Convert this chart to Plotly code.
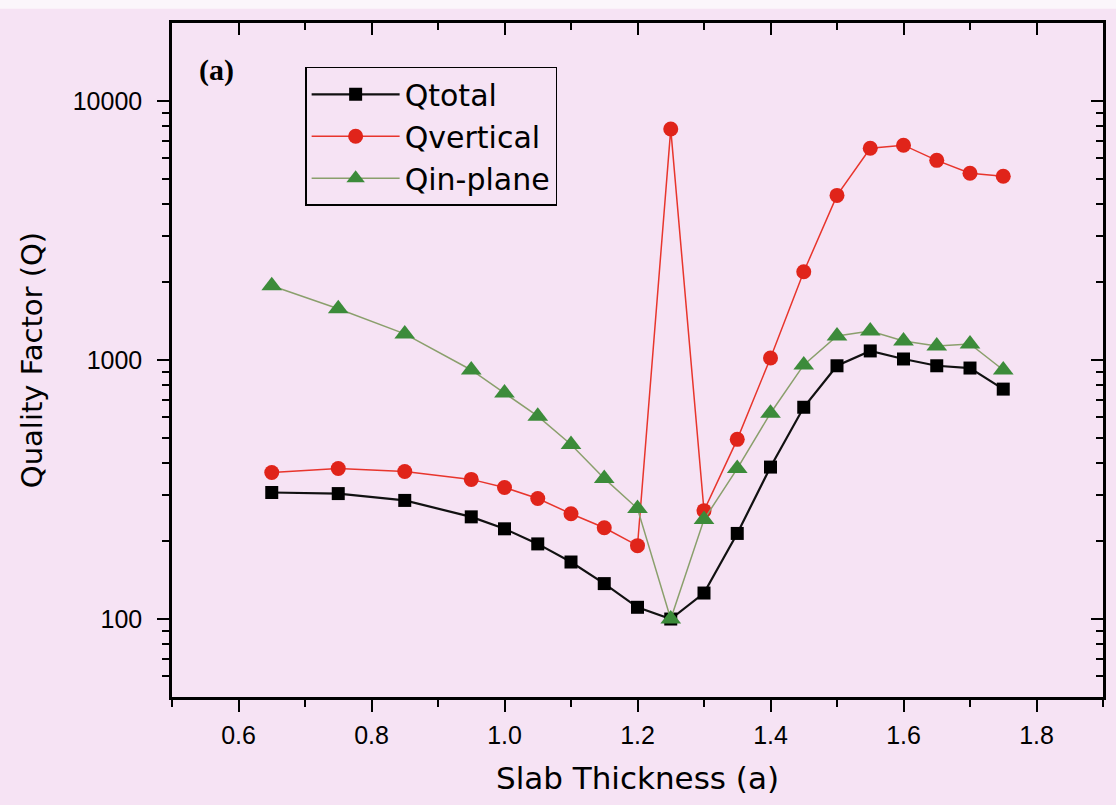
import plotly.graph_objects as go

# ---- data ----
thickness = [0.65, 0.75, 0.85, 0.95, 1.00, 1.05, 1.10, 1.15, 1.20, 1.25,
             1.30, 1.35, 1.40, 1.45, 1.50, 1.55, 1.60, 1.65, 1.70, 1.75]
q_total = [308, 305, 287, 248, 223, 195, 166, 137, 111, 100,
           126, 214, 386, 657, 950, 1084, 1009, 950, 931, 772]
q_vertical = [368, 381, 371, 346, 322, 292, 255, 225, 192, 7790,
              262, 494, 1018, 2190, 4320, 6570, 6750, 5900, 5260, 5120]
q_inplane = [1935, 1577, 1261, 915, 745, 607, 472, 349, 267, 100,
             242, 381, 623, 957, 1239, 1295, 1185, 1133, 1153, 915]

x_major_ticks = [0.6, 0.8, 1.0, 1.2, 1.4, 1.6, 1.8]
x_minor_ticks = [0.5, 0.7, 0.9, 1.1, 1.3, 1.5, 1.7, 1.9]
y_major_ticks = [100, 1000, 10000]
y_major_text = ["100", "1000", "10000"]
y_minor_ticks = [60, 70, 80, 90,
                 200, 300, 400, 500, 600, 700, 800, 900,
                 2000, 3000, 4000, 5000, 6000, 7000, 8000, 9000]

BG = "#F6E3F4"
TICK_FONT = dict(family="Liberation Sans, Arial, sans-serif", size=25, color="black")

fig = go.Figure()

fig.add_trace(go.Scatter(
    x=thickness, y=q_total, name="Qtotal", mode="lines+markers",
    line=dict(color="#111111", width=2.2),
    marker=dict(symbol="square", size=13, color="#000000"),
    legendgroup="a"))
fig.add_trace(go.Scatter(
    x=thickness, y=q_vertical, name="Qvertical", mode="lines+markers",
    line=dict(color="#E8352C", width=1.5),
    marker=dict(symbol="circle", size=15, color="#E0241A"),
    legendgroup="b"))
fig.add_trace(go.Scatter(
    x=thickness, y=q_inplane, name="Qin-plane", mode="lines+markers",
    line=dict(color="#8A9F6C", width=1.5),
    marker=dict(symbol="triangle-up", size=18, color="#3C8B3A"),
    legendgroup="c"))
# invisible trace so the mirrored (top/right) axes get drawn
fig.add_trace(go.Scatter(
    x=thickness, y=q_total, xaxis="x2", yaxis="y2", mode="lines",
    line=dict(width=0, color="rgba(0,0,0,0)"), showlegend=False,
    hoverinfo="skip"))

xr = [0.5, 1.9]
yr = [1.69897, 4.30103]

common_x = dict(range=xr, showline=True, linecolor="black", linewidth=2.5,
                showgrid=False, zeroline=False, tickvals=x_major_ticks,
                ticklen=12, tickwidth=2, tickcolor="black",
                minor=dict(tickvals=x_minor_ticks,
                           ticklen=7, tickwidth=2, tickcolor="black"))
common_y = dict(type="log", range=yr, showline=True, linecolor="black",
                linewidth=2.5, showgrid=False, zeroline=False,
                tickvals=y_major_ticks, ticktext=y_major_text,
                ticklen=12, tickwidth=2, tickcolor="black",
                minor=dict(tickvals=y_minor_ticks, ticklen=7, tickwidth=2,
                           tickcolor="black"))

fig.update_layout(
    width=1116, height=805,
    paper_bgcolor=BG, plot_bgcolor=BG,
    margin=dict(l=172, r=13, t=23, b=108),
    xaxis=dict(**common_x, ticks="outside", tickformat=".1f",
               tickfont=TICK_FONT, ticklabelstandoff=2,
               minor_ticks="outside",
               title=dict(text="Slab Thickness (a)",
                          font=dict(family="DejaVu Sans, sans-serif", size=31, color="black"),
                          standoff=20)),
    yaxis=dict(**common_y, ticks="outside", tickfont=TICK_FONT,
               ticklabelstandoff=10, minor_ticks="outside",
               title=dict(text="Quality Factor (Q)",
                          font=dict(family="DejaVu Sans, sans-serif", size=29, color="black"),
                          standoff=22)),
    xaxis2=dict(**common_x, ticks="inside", minor_ticks="inside",
                overlaying="x", side="top", anchor="y", showticklabels=False),
    yaxis2=dict(**common_y, ticks="inside", minor_ticks="inside",
                overlaying="y", side="right", anchor="x", showticklabels=False),
    legend=dict(x=0.143, y=0.935, xanchor="left", yanchor="top",
                bgcolor=BG, bordercolor="black", borderwidth=1.5,
                font=dict(family="DejaVu Sans, sans-serif", size=30, color="black"),
                itemwidth=88, tracegroupgap=0),
    showlegend=True,
    shapes=[dict(type="rect", xref="paper", yref="paper",
                 x0=-0.2, x1=1.1, y0=1.021, y1=1.05,
                 fillcolor="#FBF6FB", line=dict(width=0), layer="below")],
    annotations=[dict(text="<b>(a)</b>", x=0.027, y=0.93, xref="paper", yref="paper",
                      xanchor="left", yanchor="middle", showarrow=False,
                      font=dict(family="Liberation Serif, Times New Roman, serif",
                                size=30, color="black"))],
)

fig.write_html("out.html")
